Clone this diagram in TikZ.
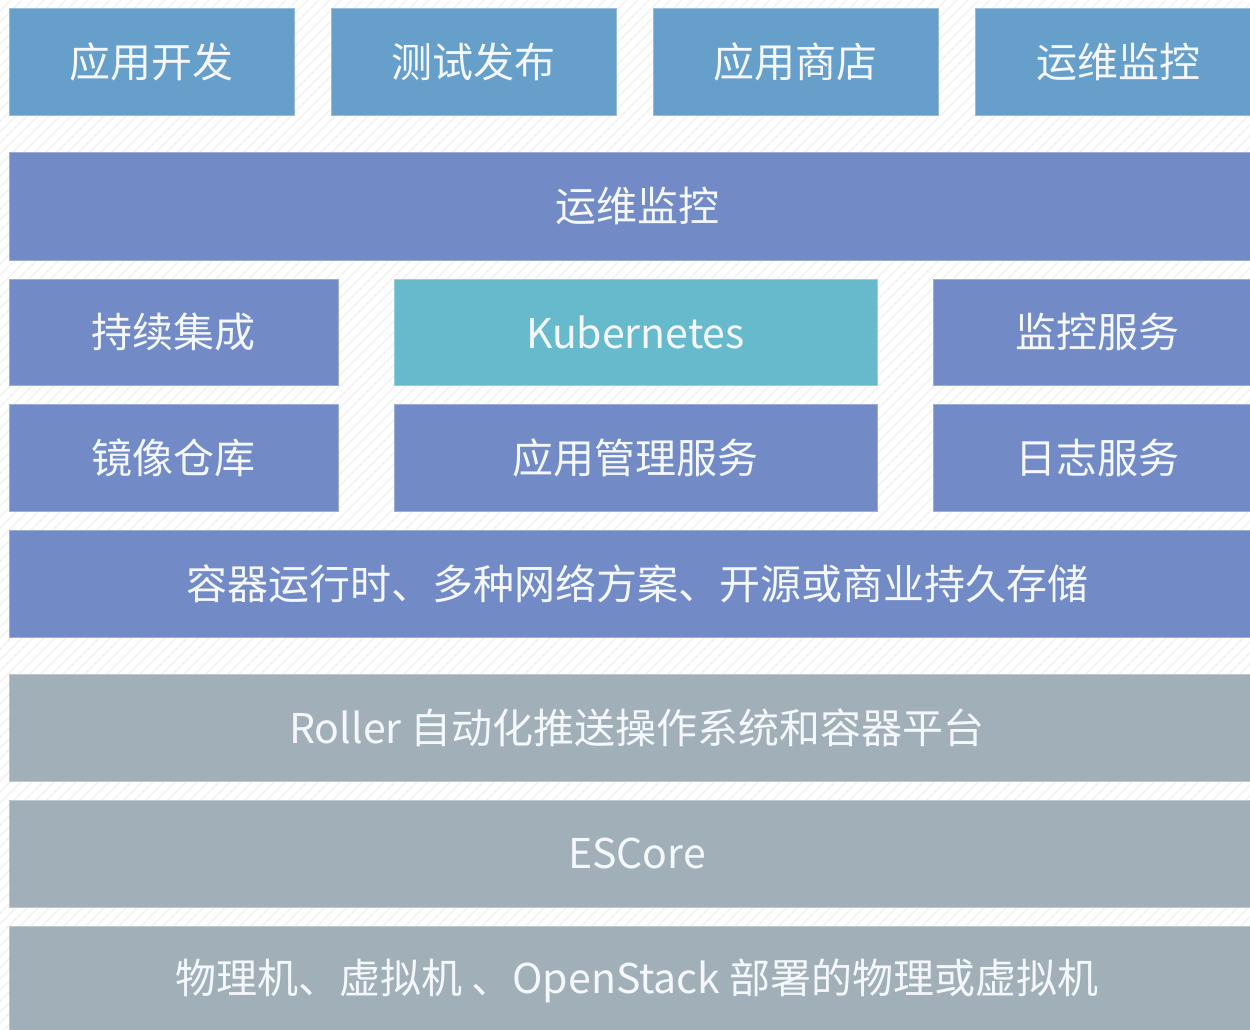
\documentclass[tikz,border=0pt]{standalone}
\usepackage{fontspec}
\setmainfont{Noto Sans CJK SC}
\definecolor{topblue}{HTML}{679FCB}
\definecolor{midblue}{HTML}{728BC6}
\definecolor{teal}{HTML}{67BACC}
\definecolor{slate}{HTML}{A1B0B8}
\definecolor{stripe}{HTML}{F3F3F3}
\definecolor{txt}{HTML}{F4F7FB}
\tikzset{
  blk/.style={anchor=north west, inner sep=0pt, outer sep=0pt, text=txt,
    font=\fontsize{41}{46}\selectfont, align=center},
  topb/.style={blk, fill=topblue, draw=topblue!70!white, line width=0.8pt},
  midb/.style={blk, fill=midblue, draw=midblue!70!white, line width=0.8pt},
  tealb/.style={blk, fill=teal, draw=teal!70!white, line width=0.8pt},
  grayb/.style={blk, fill=slate, draw=slate!70!white, line width=0.8pt},
}
\begin{document}
\begin{tikzpicture}[x=1pt,y=-1pt]
\useasboundingbox (0,0) rectangle (1250,1030);
\fill[white] (0,0) rectangle (1250,1030);
\begin{scope}
\clip (0,0) rectangle (1250,1030);
\foreach \i in {0,11,...,2300} {
  \draw[stripe, line width=1.5pt] (\i-1030,1030) -- (\i,0);
}
\end{scope}
% row 1
\node[topb, minimum width=285, minimum height=107] (r1a) at (9,8) {应用开发};
\node[topb, minimum width=285, minimum height=107] (r1b) at (331,8) {测试发布};
\node[topb, minimum width=285, minimum height=107] (r1c) at (653,8) {应用商店};
\node[topb, minimum width=286, minimum height=107] (r1d) at (975,8) {运维监控};
% row 2
\node[midb, minimum width=1256, minimum height=108] (r2) at (9,152) {运维监控};
% row 3
\node[midb, minimum width=329, minimum height=106] (r3a) at (9,279) {持续集成};
\node[tealb, minimum width=483, minimum height=106] (r3b) at (394,279) {Kubernetes};
\node[midb, minimum width=328, minimum height=106] (r3c) at (933,279) {监控服务};
% row 4
\node[midb, minimum width=329, minimum height=107] (r4a) at (9,404) {镜像仓库};
\node[midb, minimum width=483, minimum height=107] (r4b) at (394,404) {应用管理服务};
\node[midb, minimum width=328, minimum height=107] (r4c) at (933,404) {日志服务};
% row 5
\node[midb, minimum width=1256, minimum height=107] (r5) at (9,530) {容器运行时、多种网络方案、开源或商业持久存储};
% gray rows
\node[grayb, minimum width=1256, minimum height=107] (r6) at (9,674) {Roller 自动化推送操作系统和容器平台};
\node[grayb, minimum width=1256, minimum height=107] (r7) at (9,800) {ESCore};
\node[grayb, minimum width=1256, minimum height=110] (r8) at (9,926) {物理机、虚拟机 、OpenStack 部署的物理或虚拟机};
\end{tikzpicture}
\end{document}
